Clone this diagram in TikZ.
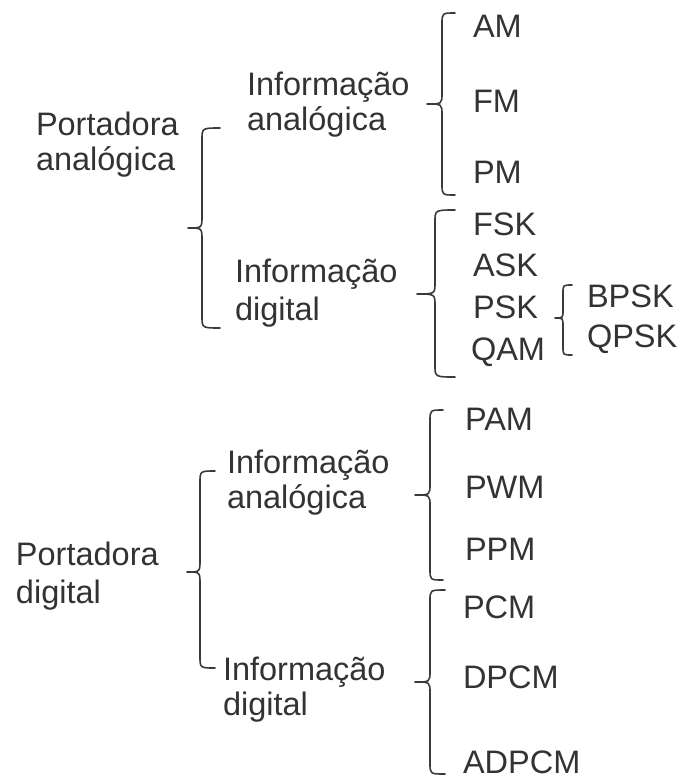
\documentclass[tikz,border=0pt]{standalone}
\usepackage{fontspec}
\setmainfont{Liberation Sans}
\definecolor{txt}{HTML}{333333}
\definecolor{brc}{HTML}{3A3A3A}
\tikzset{
  lbl/.style={anchor=base west, inner sep=0pt, outer sep=0pt, text=txt,
    font=\fontsize{32.5}{36}\selectfont},
  bracestyle/.style={draw=brc, line width=1.6pt, line cap=round, line join=round}
}
% #1 xv, #2 xe, #3 xt, #4 yt, #5 ym, #6 yb, #7 r
\newcommand{\cbrace}[7]{%
  \draw[bracestyle] (#2,#4) .. controls (#1,#4) .. (#1,#4+#7)
    -- (#1,#5-#7) .. controls (#1,#5) .. (#3,#5)
    .. controls (#1,#5) .. (#1,#5+#7)
    -- (#1,#6-#7) .. controls (#1,#6) .. (#2,#6);}
\begin{document}
\begin{tikzpicture}[x=1pt,y=-1pt]
\useasboundingbox (0,0) rectangle (680,780);
% top section
\node[lbl] (pa1) at (36,135) {Portadora};
\node[lbl] (pa2) at (36,170) {analógica};
\node[lbl] (ia1) at (247,95) {Informação};
\node[lbl] (ia2) at (247,130) {analógica};
\node[lbl] (am) at (473,37) {AM};
\node[lbl] (fm) at (473,112) {FM};
\node[lbl] (pm) at (473,183) {PM};
\node[lbl] (id1) at (235,282) {Informação};
\node[lbl] (id2) at (235,320) {digital};
\node[lbl] (fsk) at (473,235) {FSK};
\node[lbl] (ask) at (473,276) {ASK};
\node[lbl] (psk) at (473,318) {PSK};
\node[lbl] (qam) at (471,360) {QAM};
\node[lbl] (bpsk) at (587,307) {BPSK};
\node[lbl] (qpsk) at (587,347) {QPSK};
% bottom section
\node[lbl] (pd1) at (16,565) {Portadora};
\node[lbl] (pd2) at (16,603) {digital};
\node[lbl] (ja1) at (227,473) {Informação};
\node[lbl] (ja2) at (227,508) {analógica};
\node[lbl] (jd1) at (223,680) {Informação};
\node[lbl] (jd2) at (223,715) {digital};
\node[lbl] (pam) at (465,430) {PAM};
\node[lbl] (pwm) at (465,498) {PWM};
\node[lbl] (ppm) at (465,560) {PPM};
\node[lbl] (pcm) at (463,618) {PCM};
\node[lbl] (dpcm) at (463,688) {DPCM};
\node[lbl] (adpcm) at (463,773) {ADPCM};
% braces
\cbrace{202}{220}{188}{128}{228}{328}{12}
\cbrace{442}{455}{427}{13}{104}{195}{11}
\cbrace{435}{455}{417}{210}{294}{377}{12}
\cbrace{563}{572}{555}{285}{318}{355}{8}
\cbrace{200}{215}{187}{471}{572}{668}{12}
\cbrace{430}{443}{415}{410}{495}{580}{11}
\cbrace{430}{445}{415}{590}{682}{774}{11}
\end{tikzpicture}
\end{document}
